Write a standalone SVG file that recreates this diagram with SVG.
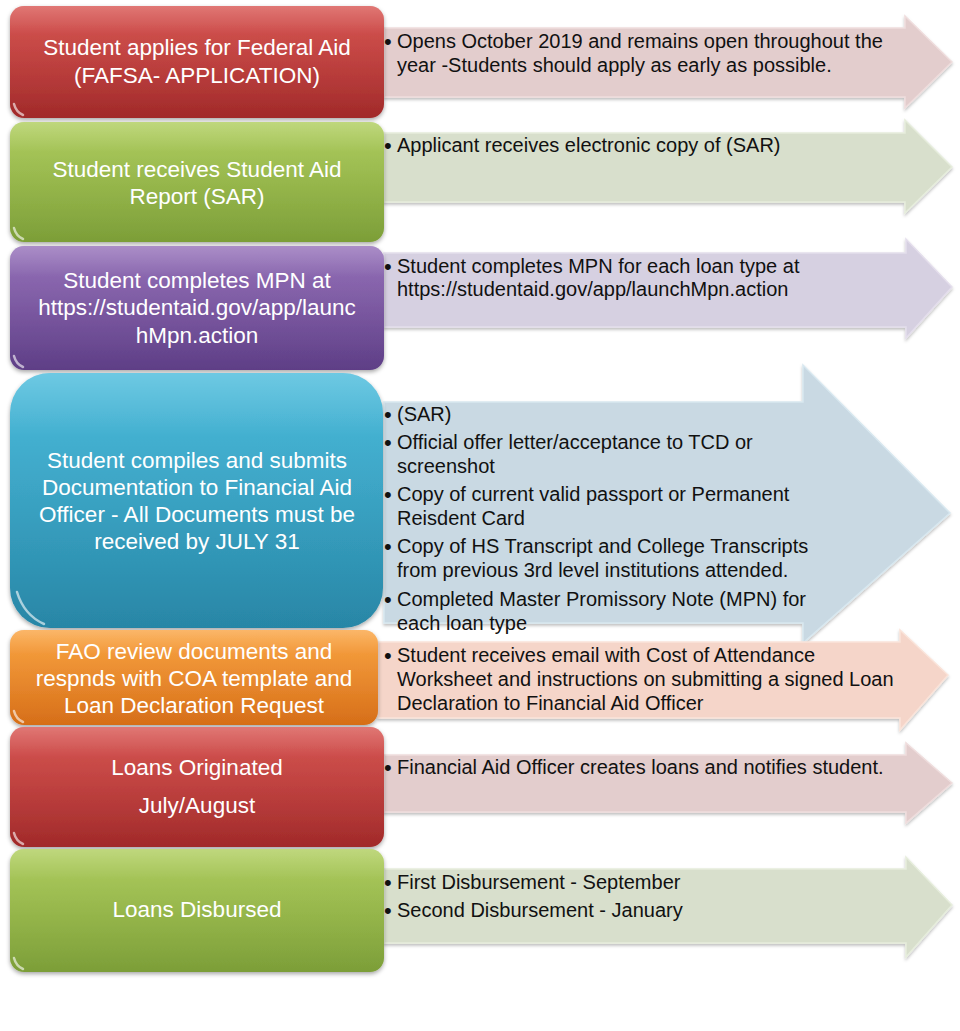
<svg xmlns="http://www.w3.org/2000/svg" width="960" height="1031" viewBox="0 0 960 1031">
<defs>
<style>
.lt{font-family:"Liberation Sans",Arial,sans-serif;font-size:22.5px;fill:#ffffff;text-anchor:middle}
.rt{font-family:"Liberation Sans",Arial,sans-serif;font-size:20px;fill:#111111}
.bu{font-family:"Liberation Sans",Arial,sans-serif;font-size:22px;fill:#111111}
.hl{fill:url(#gloss)}
.gl{fill:none;stroke:#ffffff;stroke-opacity:0.6;stroke-width:2.5;stroke-linecap:round}
</style>
<linearGradient id="gRed" x1="0" y1="0" x2="0" y2="1"><stop offset="0" stop-color="#d4433f"/><stop offset="1" stop-color="#a12a2a"/></linearGradient>
<linearGradient id="gGreen" x1="0" y1="0" x2="0" y2="1"><stop offset="0" stop-color="#a6c84c"/><stop offset="1" stop-color="#7c9e38"/></linearGradient>
<linearGradient id="gPurple" x1="0" y1="0" x2="0" y2="1"><stop offset="0" stop-color="#8a62b2"/><stop offset="1" stop-color="#5e3e86"/></linearGradient>
<linearGradient id="gBlue" x1="0" y1="0" x2="0" y2="1"><stop offset="0" stop-color="#36b4d8"/><stop offset="1" stop-color="#2886a6"/></linearGradient>
<linearGradient id="gOrange" x1="0" y1="0" x2="0" y2="1"><stop offset="0" stop-color="#f99a2e"/><stop offset="1" stop-color="#d66e18"/></linearGradient>
<linearGradient id="gloss" x1="0" y1="0" x2="0" y2="1"><stop offset="0" stop-color="#ffffff" stop-opacity="0.28"/><stop offset="0.25" stop-color="#ffffff" stop-opacity="0.08"/><stop offset="1" stop-color="#ffffff" stop-opacity="0"/></linearGradient>
<filter id="sh" x="-10%" y="-10%" width="120%" height="130%"><feDropShadow dx="0" dy="2" stdDeviation="2" flood-color="#000" flood-opacity="0.35"/></filter>
<filter id="sha" x="-10%" y="-10%" width="120%" height="130%"><feDropShadow dx="0" dy="2" stdDeviation="1.5" flood-color="#000" flood-opacity="0.25"/></filter>
</defs>
<rect width="960" height="1031" fill="#ffffff"/>

<g id="connectors">
<path filter="url(#sha)" fill="#e3cdcd" stroke="#efdddd" stroke-width="1.5" d="M384,28 H905 V16 L952,62 L905,108 V97 H384 Z"/>
<path filter="url(#sha)" fill="#d8dfcc" stroke="#e6eddc" stroke-width="1.5" d="M384,133 H905 V120 L952,167 L905,213 V202 H384 Z"/>
<path filter="url(#sha)" fill="#d6d0e1" stroke="#e4deec" stroke-width="1.5" d="M384,253 H906 V239 L952,287 L906,338 V327 H384 Z"/>
<path filter="url(#sha)" fill="#c9d9e3" stroke="#d8e8f0" stroke-width="1.5" d="M384,402 H803 V365 L950,513 L803,643 V623 H384 Z"/>
<path filter="url(#sha)" fill="#f5d5c9" stroke="#fae4da" stroke-width="1.5" d="M378,642 H900 V630 L948,675 L900,730 V718 H378 Z"/>
<path filter="url(#sha)" fill="#e3cdcd" stroke="#efdddd" stroke-width="1.5" d="M384,755 H906 V743 L952,783 L906,823 V812 H384 Z"/>
<path filter="url(#sha)" fill="#d8dfcc" stroke="#e6eddc" stroke-width="1.5" d="M384,869 H906 V857 L952,905 L906,957 V943 H384 Z"/>
</g>

<g id="node1">
<rect x="10" y="6" width="374" height="112" rx="14" fill="url(#gRed)" filter="url(#sh)"/>
<rect x="10" y="6" width="374" height="112" rx="14" class="hl"/>
<path class="gl" d="M14,104 Q16,112 23,115"/>
<text class="lt" x="197" y="55">Student applies for Federal Aid</text>
<text class="lt" x="197" y="83">(FAFSA- APPLICATION)</text>
<text class="bu" x="384" y="49">•</text>
<text class="rt" x="397" y="48">Opens October 2019 and remains open throughout the</text>
<text class="rt" x="397" y="72">year -Students should apply as early as possible.</text>
</g>

<g id="node2">
<rect x="10" y="122" width="374" height="120" rx="14" fill="url(#gGreen)" filter="url(#sh)"/>
<rect x="10" y="122" width="374" height="120" rx="14" class="hl"/>
<path class="gl" d="M14,228 Q16,236 23,239"/>
<text class="lt" x="197" y="177">Student receives Student Aid</text>
<text class="lt" x="197" y="204">Report (SAR)</text>
<text class="bu" x="384" y="153">•</text>
<text class="rt" x="397" y="152">Applicant receives electronic copy of (SAR)</text>
</g>

<g id="node3">
<rect x="10" y="246" width="374" height="124" rx="14" fill="url(#gPurple)" filter="url(#sh)"/>
<rect x="10" y="246" width="374" height="124" rx="14" class="hl"/>
<path class="gl" d="M14,356 Q16,364 23,367"/>
<text class="lt" x="197" y="288">Student completes MPN at</text>
<text class="lt" x="197" y="315">https://studentaid.gov/app/launc</text>
<text class="lt" x="197" y="343">hMpn.action</text>
<text class="bu" x="384" y="274">•</text>
<text class="rt" x="397" y="273">Student completes MPN for each loan type at</text>
<text class="rt" x="397" y="296">https://studentaid.gov/app/launchMpn.action</text>
</g>

<g id="node4">
<rect x="10" y="373" width="373" height="255" rx="40" fill="url(#gBlue)" filter="url(#sh)"/>
<rect x="10" y="373" width="373" height="255" rx="40" class="hl"/>
<path class="gl" d="M17,592 Q24,615 44,624"/>
<text class="lt" x="197" y="468">Student compiles and submits</text>
<text class="lt" x="197" y="495">Documentation to Financial Aid</text>
<text class="lt" x="197" y="522">Officer - All Documents must be</text>
<text class="lt" x="197" y="549">received by JULY 31</text>
<text class="bu" x="384" y="422">•</text>
<text class="rt" x="397" y="421">(SAR)</text>
<text class="bu" x="384" y="450">•</text>
<text class="rt" x="397" y="449">Official offer letter/acceptance to TCD or</text>
<text class="rt" x="397" y="473">screenshot</text>
<text class="bu" x="384" y="502">•</text>
<text class="rt" x="397" y="501">Copy of current valid passport or Permanent</text>
<text class="rt" x="397" y="525">Reisdent Card</text>
<text class="bu" x="384" y="554">•</text>
<text class="rt" x="397" y="553">Copy of HS Transcript and College Transcripts</text>
<text class="rt" x="397" y="577">from previous 3rd level institutions attended.</text>
<text class="bu" x="384" y="607">•</text>
<text class="rt" x="397" y="606">Completed Master Promissory Note (MPN) for</text>
<text class="rt" x="397" y="630">each loan type</text>
</g>

<g id="node5">
<rect x="10" y="630" width="368" height="95" rx="14" fill="url(#gOrange)" filter="url(#sh)"/>
<rect x="10" y="630" width="368" height="95" rx="14" class="hl"/>
<path class="gl" d="M14,711 Q16,719 23,722"/>
<text class="lt" x="194" y="659">FAO review documents and</text>
<text class="lt" x="194" y="686">respnds with COA template and</text>
<text class="lt" x="194" y="713">Loan Declaration Request</text>
<text class="bu" x="384" y="663">•</text>
<text class="rt" x="397" y="662">Student receives email with Cost of Attendance</text>
<text class="rt" x="397" y="686">Worksheet and instructions on submitting a signed Loan</text>
<text class="rt" x="397" y="710">Declaration to Financial Aid Officer</text>
</g>

<g id="node6">
<rect x="10" y="727" width="374" height="120" rx="14" fill="url(#gRed)" filter="url(#sh)"/>
<rect x="10" y="727" width="374" height="120" rx="14" class="hl"/>
<path class="gl" d="M14,833 Q16,841 23,844"/>
<text class="lt" x="197" y="775">Loans Originated</text>
<text class="lt" x="197" y="813">July/August</text>
<text class="bu" x="384" y="775">•</text>
<text class="rt" x="397" y="774">Financial Aid Officer creates loans and notifies student.</text>
</g>

<g id="node7">
<rect x="10" y="849" width="374" height="123" rx="14" fill="url(#gGreen)" filter="url(#sh)"/>
<rect x="10" y="849" width="374" height="123" rx="14" class="hl"/>
<path class="gl" d="M14,958 Q16,966 23,969"/>
<text class="lt" x="197" y="917">Loans Disbursed</text>
<text class="bu" x="384" y="890">•</text>
<text class="rt" x="397" y="889">First Disbursement - September</text>
<text class="bu" x="384" y="918">•</text>
<text class="rt" x="397" y="917">Second Disbursement - January</text>
</g>
</svg>
